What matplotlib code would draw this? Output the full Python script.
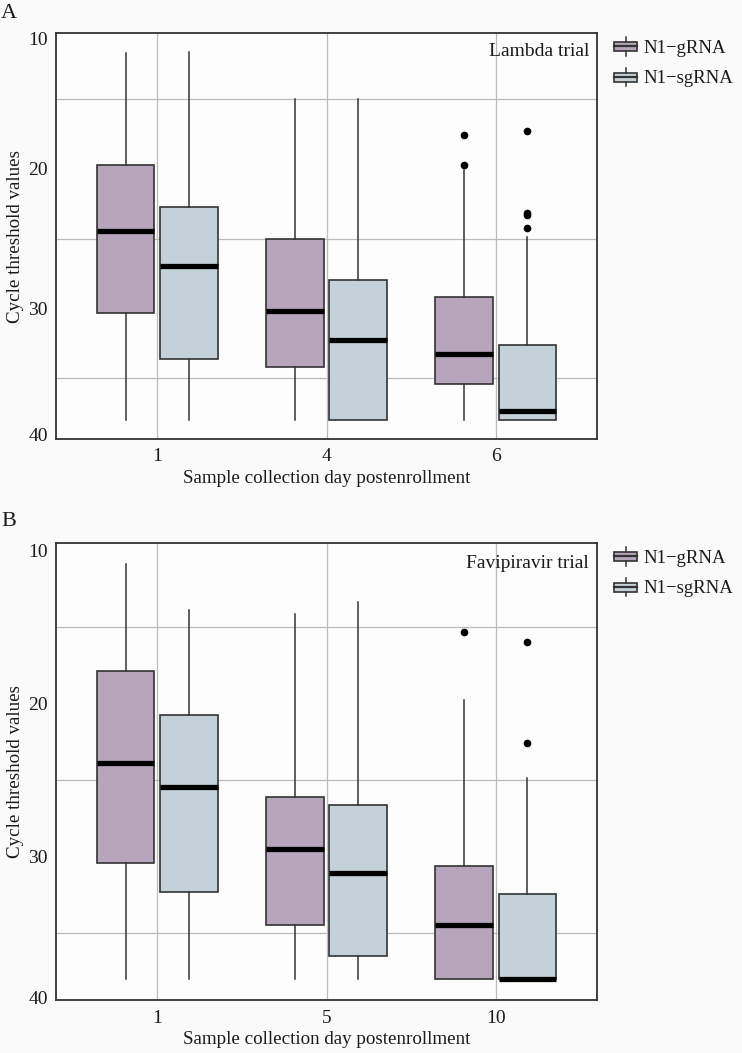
import matplotlib
matplotlib.use('Agg')
import matplotlib.pyplot as plt
import numpy as np
from matplotlib.patches import Patch, Rectangle
from matplotlib.lines import Line2D
from matplotlib.legend_handler import HandlerBase

plt.rcParams['font.family'] = ['Liberation Serif', 'DejaVu Serif']

# per day: [upper whisker (low Ct), Q1, median, Q3, lower whisker (high Ct)]
lambda_days = ['1', '4', '6']
lambda_grna = [[11.67, 19.76, 24.43, 30.33, 38.0],
               [14.99, 25.03, 30.2, 34.2, 38.0],
               [20.1, 29.2, 33.3, 35.4, 38.03]]
lambda_sgrna = [[11.62, 22.73, 26.95, 33.63, 38.0],
                [14.99, 28.0, 32.3, 38.0, 38.0],
                [24.9, 32.63, 37.36, 38.0, 38.0]]
lambda_grna_out = [[], [], [17.6, 19.7]]
lambda_sgrna_out = [[], [], [17.3, 23.2, 23.3, 24.26]]

favi_days = ['1', '5', '10']
favi_grna = [[10.88, 17.88, 23.89, 30.42, 38.0],
             [14.18, 26.12, 29.47, 34.46, 38.0],
             [19.8, 30.58, 34.42, 38.0, 38.0]]
favi_sgrna = [[13.9, 20.74, 25.45, 32.27, 38.0],
              [13.42, 26.63, 31.08, 36.46, 38.0],
              [24.87, 32.42, 37.98, 38.0, 38.0]]
favi_grna_out = [[], [], [15.34]]
favi_sgrna_out = [[], [], [16.0, 22.6]]

series_names = ['N1\u2212gRNA', 'N1\u2212sgRNA']
series_colors = ['#B7A5BB', '#C4D1D9']
EDGE = '#333333'
TXT = '#1A1A1A'


class BoxKey(HandlerBase):
    def create_artists(self, legend, orig_handle, xdescent, ydescent,
                       width, height, fontsize, trans):
        x0, y0 = -xdescent, -ydescent
        cx = x0 + width / 2
        rect = Rectangle((x0, y0 + height * 0.26), width, height * 0.48,
                         facecolor=orig_handle.get_facecolor(), edgecolor=EDGE,
                         linewidth=1.2, transform=trans)
        med = Line2D([x0, x0 + width], [y0 + height / 2] * 2, color=EDGE,
                     linewidth=1.6, transform=trans)
        w1 = Line2D([cx, cx], [y0 + height * 0.74, y0 + height], color=EDGE,
                    linewidth=1.1, transform=trans)
        w2 = Line2D([cx, cx], [y0, y0 + height * 0.26], color=EDGE,
                    linewidth=1.1, transform=trans)
        return [rect, med, w1, w2]


def draw_panel(ax, days, grna, sgrna, grna_out, sgrna_out, trial, label_pos):
    x = np.arange(len(days))
    lo, hi = 100, 0
    for summ, outs, off, color in [(grna, grna_out, -0.1875, series_colors[0]),
                                   (sgrna, sgrna_out, 0.1875, series_colors[1])]:
        stats = []
        for s, o in zip(summ, outs):
            stats.append(dict(whislo=s[0], q1=s[1], med=s[2], q3=s[3],
                              whishi=s[4], fliers=o))
            lo = min([lo, s[0]] + o)
            hi = max([hi, s[4]] + o)
        ax.bxp(stats, positions=x + off, widths=0.34, patch_artist=True,
               showcaps=False, manage_ticks=False,
               boxprops=dict(facecolor=color, edgecolor=EDGE, linewidth=1.2),
               medianprops=dict(color='black', linewidth=3.8, solid_capstyle='butt'),
               whiskerprops=dict(color=EDGE, linewidth=1.1),
               flierprops=dict(marker='o', markerfacecolor='black',
                               markeredgecolor='black', markersize=4.5))
    r = hi - lo
    ax.set_xlim(-0.6, len(days) - 0.4)
    ax.set_ylim(hi + 0.05 * r, lo - 0.05 * r)
    ax.set_facecolor('#FDFDFD')
    ax.set_xticks(x, days)
    ax.set_yticks(label_pos, ['10', '20', '30', '40'])
    ax.set_yticks([15, 20, 25, 30, 35], minor=True)
    ax.grid(axis='x', color='#BBBBBB', linewidth=0.9)
    ax.grid(axis='y', which='minor', color='#BBBBBB', linewidth=0.9)
    ax.set_axisbelow(True)
    ax.tick_params(which='both', length=0, labelsize=14, colors=TXT)
    ax.tick_params(axis='y', pad=6)
    ax.tick_params(axis='x', pad=7)
    for sp in ax.spines.values():
        sp.set_color(EDGE)
        sp.set_linewidth(1.3)
    ax.set_xlabel('Sample collection day postenrollment', fontsize=13.7, labelpad=3,
                  color=TXT)
    ax.set_ylabel('Cycle threshold values', fontsize=13.7, labelpad=3, color=TXT)
    ax.text(0.985, 0.955, trial, transform=ax.transAxes, ha='right', va='center',
            fontsize=14, color=TXT)


fig = plt.figure(figsize=(7.42, 10.53), dpi=100, facecolor='#FAFAFA')
W, H = 742, 1053
axA = fig.add_axes([56 / W, 1 - 438.7 / H, 541 / W, 405.2 / H])
axB = fig.add_axes([56 / W, 1 - 1000.3 / H, 541 / W, 457.6 / H])

draw_panel(axA, lambda_days, lambda_grna, lambda_sgrna, lambda_grna_out,
           lambda_sgrna_out, 'Lambda trial', [10.66, 20, 30, 39.07])
draw_panel(axB, favi_days, favi_grna, favi_sgrna, favi_grna_out,
           favi_sgrna_out, 'Favipiravir trial', [10.0, 20, 30, 39.2])

fig.text(1 / W, 1 - 14 / H, 'A', fontsize=16, va='center', ha='left', color=TXT)
fig.text(1 / W, 1 - 521 / H, 'B', fontsize=16, va='center', ha='left', color=TXT)

handles = [Patch(facecolor=c) for c in series_colors]
for top in (37, 547):
    fig.legend(handles, series_names, loc='upper left',
               bbox_to_anchor=(614 / W, 1 - top / H), frameon=False,
               handler_map={Patch: BoxKey()}, fontsize=13.5, handlelength=1.25,
               handleheight=1.17, labelspacing=0.58, handletextpad=0.3,
               borderpad=0, borderaxespad=0, labelcolor=TXT)

fig.savefig('out.png', dpi=100, facecolor=fig.get_facecolor())
